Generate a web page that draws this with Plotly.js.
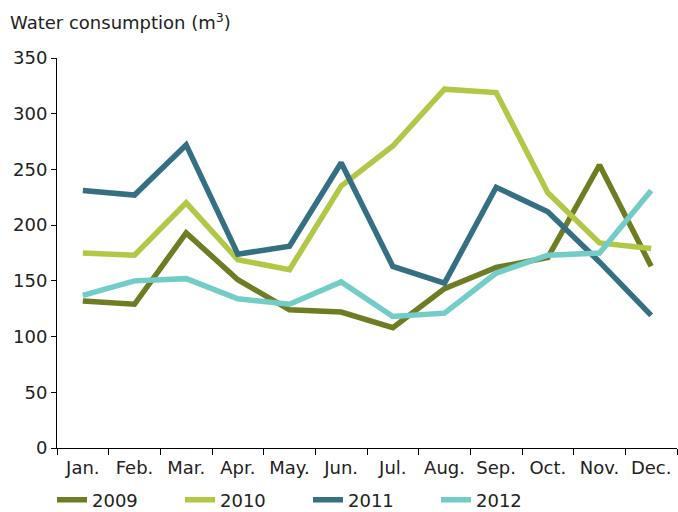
<!DOCTYPE html>
<html>
<head>
<meta charset="utf-8">
<script src="https://cdn.plot.ly/plotly-3.0.1.min.js"></script>
<style>html,body{margin:0;padding:0;background:#fff;}#chart{width:678px;height:512px;}</style>
</head>
<body>
<div id="chart"></div>
<script>
const months = ["Jan.", "Feb.", "Mar.", "Apr.", "May.", "Jun.", "Jul.", "Aug.", "Sep.", "Oct.", "Nov.", "Dec."];
const years = ["2009", "2010", "2011", "2012"];
const y2009 = [132, 129, 193, 151, 124, 122, 108, 143, 162, 171, 254, 163];
const y2010 = [175, 173, 220, 169, 160, 235, 271, 322, 319, 229, 184, 179];
const y2011 = [231, 227, 272, 174, 181, 256, 163, 148, 234, 212, 167, 119];
const y2012 = [137, 150, 152, 134, 129, 149, 118, 121, 157, 173, 175, 231];
const colors = ["#6e7d23", "#b1c746", "#346f82", "#72ccc8"];
const series = [y2009, y2010, y2011, y2012];

const FONT = "DejaVu Sans, Verdana, sans-serif";
const FS = 18;
const traces = series.map((vals, i) => ({
  type: "scatter",
  mode: "lines",
  x: months,
  y: vals,
  name: years[i],
  line: {color: colors[i], width: 5.5},
  hoverinfo: "skip"
}));

const layout = {
  width: 678,
  height: 512,
  margin: {l: 57, r: 1, t: 58, b: 64, autoexpand: false},
  paper_bgcolor: "#fff",
  plot_bgcolor: "#fff",
  font: {family: FONT, size: FS, color: "#222"},
  title: {
    text: "Water consumption (m<sup>3</sup>)",
    font: {family: FONT, size: FS, color: "#222"},
    xref: "container", yref: "container",
    x: 10 / 678, xanchor: "left",
    y: 1 - 23 / 512, yanchor: "middle"
  },
  xaxis: {
    type: "category",
    range: [-0.5, 11.5],
    tickson: "boundaries",
    ticks: "outside",
    ticklen: 6,
    tickcolor: "#000",
    showline: true,
    linecolor: "#000",
    linewidth: 1,
    showgrid: false,
    zeroline: false,
    ticklabelstandoff: 3,
    tickfont: {family: FONT, size: FS, color: "#222"},
    fixedrange: true
  },
  yaxis: {
    range: [0, 350],
    dtick: 50,
    ticks: "outside",
    ticklen: 5,
    tickcolor: "#000",
    showline: true,
    linecolor: "#000",
    linewidth: 1,
    showgrid: false,
    zeroline: false,
    tickfont: {family: FONT, size: FS, color: "#222"},
    fixedrange: true
  },
  showlegend: true,
  legend: {
    orientation: "h",
    xref: "container", yref: "container",
    x: 52 / 678, xanchor: "left",
    y: 1 - 500 / 512, yanchor: "middle",
    entrywidth: 83, entrywidthmode: "pixels",
    font: {family: FONT, size: FS, color: "#222"},
    bgcolor: "rgba(0,0,0,0)"
  }
};

Plotly.newPlot("chart", traces, layout, {displayModeBar: false, staticPlot: true});
</script>
</body>
</html>
